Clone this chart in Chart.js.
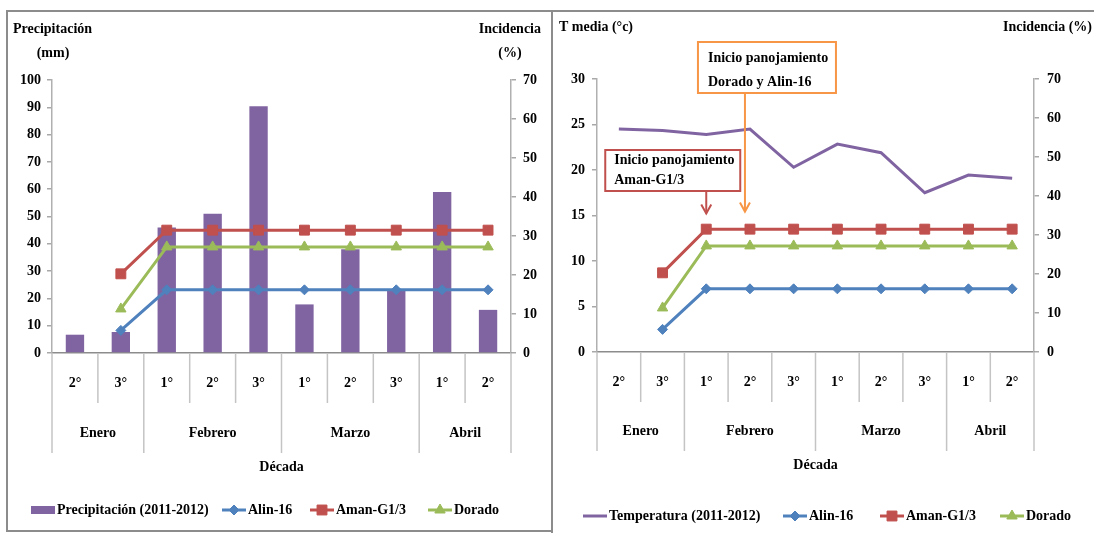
<!DOCTYPE html>
<html><head><meta charset="utf-8">
<script src="https://cdn.jsdelivr.net/npm/chart.js@4.4.1/dist/chart.umd.min.js"></script>
<style>
html,body{margin:0;padding:0;background:#fff;width:1094px;height:533px;overflow:hidden;position:relative}
.frame{position:absolute;box-sizing:border-box;border:2px solid #8c8c8c}
#f1{left:6px;top:10px;width:547px;height:522px}
#f2{left:551px;top:10px;width:600px;height:540px}
canvas{position:absolute}
#c1{left:8px;top:12px}
#c2{left:553px;top:12px}
</style></head><body>
<div class="frame" id="f1"></div>
<div class="frame" id="f2"></div>
<canvas id="c1" width="542" height="519"></canvas>
<canvas id="c2" width="541" height="521"></canvas>
<script>
// ---------- data ----------
const decades = ['2°','3°','1°','2°','3°','1°','2°','3°','1°','2°'];
const months = ['Enero','Febrero','Marzo','Abril'];
const monthSpans = [2,3,3,2];
const precipitation = [6.7,7.7,46,51,90.4,17.8,38,22.7,59,15.8];
const temperature = [24.5,24.35,23.9,24.5,20.3,22.85,21.9,17.5,19.45,19.1];
const alin16  = [null,5.8,16.2,16.2,16.2,16.2,16.2,16.2,16.2,16.2];
const amanG13 = [null,20.3,31.5,31.5,31.5,31.5,31.5,31.5,31.5,31.5];
const dorado  = [null,11.3,27.2,27.2,27.2,27.2,27.2,27.2,27.2,27.2];
const precTicks = {min:0,max:100,step:10};
const tempTicks = {min:0,max:30,step:5};
const incTicks  = {min:0,max:70,step:10};

// ---------- styles ----------
const PURPLE='#8064A2', BLUE='#4F81BD', RED='#C0504D', GREEN='#9BBB59', ORANGE='#F79646';
const FONT='bold 14px "Liberation Serif"';
Chart.defaults.font = {family:'"Liberation Serif"', size:14, weight:'bold'};
Chart.defaults.color = '#000';

const lineDs = (label,data,color,style,radius)=>({
  type:'line', label, data, yAxisID:'y1', borderColor:color, backgroundColor:color,
  borderWidth:3, pointStyle:style, pointRadius:radius, pointBorderWidth:1,
  pointBorderColor:color, tension:0, order:0, spanGaps:false
});

function yAxis(t, pos, width, pad){
  return {
    type:'linear', position:pos, min:t.min, max:t.max,
    ticks:{stepSize:t.step, padding:pad, color:'#000', font:{size:14,weight:'bold'}},
    grid:{drawOnChartArea:false, drawTicks:true, tickLength:5, color:'#a8a8a8', lineWidth:1.5},
    border:{display:true, color:'#b0b0b0', width:1.5},
    afterFit(s){ s.width = width; }
  };
}
function xAxis(height){
  return {
    type:'category', offset:true,
    ticks:{display:false},
    grid:{display:false},
    border:{display:true, color:'#8c8c8c', width:1.5},
    afterFit(s){ s.height = height; }
  };
}

function legendSymbol(ctx, item, x, y){
  ctx.save();
  ctx.fillStyle = item.color; ctx.strokeStyle = item.color;
  if (item.kind==='box'){
    ctx.fillRect(x, y-4, 24, 8);
  } else {
    ctx.lineWidth = 3;
    ctx.beginPath(); ctx.moveTo(x, y); ctx.lineTo(x+24, y); ctx.stroke();
    if (item.style){
      ctx.lineWidth = 1;
      Chart.helpers.drawPoint(ctx, {pointStyle:item.style, radius:item.radius, rotation:0, borderWidth:1}, x+12, y);
    }
  }
  ctx.restore();
}

function hierPlugin(cfg){
  return {
    id:'hier'+cfg.id,
    afterDraw(chart){
      const {ctx, chartArea:a, scales:{x}} = chart;
      const n = decades.length;
      const bounds=[0]; let acc=0; monthSpans.forEach(s=>{acc+=s; bounds.push(acc);});
      ctx.save();
      // separators
      ctx.strokeStyle='#c4c4c4'; ctx.lineWidth=1.5;
      for(let i=0;i<=n;i++){
        const px = i===0 ? a.left : (i===n ? a.right : (x.getPixelForValue(i-1)+x.getPixelForValue(i))/2);
        const len = bounds.includes(i) ? cfg.longLen : cfg.shortLen;
        ctx.beginPath(); ctx.moveTo(px, a.bottom); ctx.lineTo(px, a.bottom+len); ctx.stroke();
      }
      ctx.font=FONT; ctx.fillStyle='#000'; ctx.textAlign='center'; ctx.textBaseline='middle';
      decades.forEach((d,i)=> ctx.fillText(d, x.getPixelForValue(i), a.bottom+cfg.dec));
      months.forEach((m,k)=>{
        const i0=bounds[k], i1=bounds[k+1]-1;
        const cx=(x.getPixelForValue(i0)+x.getPixelForValue(i1))/2;
        ctx.fillText(m, cx, a.bottom+cfg.mon);
      });
      ctx.fillText('Década', (a.left+a.right)/2, a.bottom+cfg.title);
      // axis titles
      cfg.titles.forEach(t=>{ ctx.textAlign=t.align; ctx.fillText(t.text, t.x, t.y); });
      // legend
      ctx.textAlign='left';
      const ly = a.bottom + cfg.legend;
      cfg.legendItems.forEach((it,k)=>{
        const sx = cfg.legendX[k];
        legendSymbol(ctx, it, sx, ly);
        ctx.fillStyle='#000';
        ctx.fillText(it.label, sx+26, ly);
      });
      // annotations
      (cfg.notes||[]).forEach(nt=>{
        const ax = x.getPixelForValue(nt.cat) + nt.dx;
        const bl = ax + nt.boxL, bw = nt.boxW;
        ctx.strokeStyle = nt.color; ctx.lineWidth = 2;
        ctx.fillStyle='#fff';
        ctx.fillRect(bl, nt.top, bw, nt.h);
        ctx.strokeRect(bl, nt.top, bw, nt.h);
        ctx.fillStyle='#000'; ctx.textAlign='left';
        nt.lines.forEach((ln,j)=> ctx.fillText(ln, bl+nt.tx, nt.top+nt.ty[j]));
        const tip = chart.scales.y1.getPixelForValue(nt.tipVal);
        ctx.beginPath(); ctx.moveTo(ax, nt.top+nt.h); ctx.lineTo(ax, tip); ctx.stroke();
        ctx.beginPath(); ctx.moveTo(ax-5, tip-9); ctx.lineTo(ax, tip); ctx.lineTo(ax+5, tip-9); ctx.stroke();
      });
      ctx.restore();
    }
  };
}

// ---------- chart 1 ----------
new Chart(document.getElementById('c1'), {
  data:{
    labels: decades,
    datasets:[
      {type:'bar', label:'Precipitación (2011-2012)', data:precipitation, yAxisID:'y',
       backgroundColor:PURPLE, borderWidth:0, barPercentage:0.4, categoryPercentage:1, order:2},
      lineDs('Alin-16', alin16, BLUE, 'rectRot', 5),
      lineDs('Aman-G1/3', amanG13, RED, 'rect', 7),
      lineDs('Dorado', dorado, GREEN, 'triangle', 6)
    ]
  },
  options:{
    responsive:false, animation:false, events:[],
    layout:{padding:{top:68,left:0,right:0,bottom:0}},
    plugins:{legend:{display:false}, tooltip:{enabled:false}},
    scales:{ x:xAxis(178), y:yAxis(precTicks,'left',44,6), y1:yAxis(incTicks,'right',39,7) }
  },
  plugins:[hierPlugin({
    id:1, dec:30, mon:80, title:114, legend:157, shortLen:50, longLen:100,
    titles:[
      {text:'Precipitación', x:5, y:17, align:'left'},
      {text:'(mm)', x:45, y:41, align:'center'},
      {text:'Incidencia', x:533, y:17, align:'right'},
      {text:'(%)', x:502, y:41, align:'center'}
    ],
    legendX:[23,214,302,420],
    legendItems:[
      {label:'Precipitación (2011-2012)', kind:'box', color:PURPLE},
      {label:'Alin-16', kind:'line', color:BLUE, style:'rectRot', radius:5},
      {label:'Aman-G1/3', kind:'line', color:RED, style:'rect', radius:7},
      {label:'Dorado', kind:'line', color:GREEN, style:'triangle', radius:6}
    ]
  })]
});

// ---------- chart 2 ----------
new Chart(document.getElementById('c2'), {
  data:{
    labels: decades,
    datasets:[
      {type:'line', label:'Temperatura (2011-2012)', data:temperature, yAxisID:'y',
       borderColor:PURPLE, backgroundColor:PURPLE, borderWidth:3, pointRadius:0, tension:0, order:3},
      lineDs('Alin-16', alin16, BLUE, 'rectRot', 5),
      lineDs('Aman-G1/3', amanG13, RED, 'rect', 7),
      lineDs('Dorado', dorado, GREEN, 'triangle', 6)
    ]
  },
  options:{
    responsive:false, animation:false, events:[],
    layout:{padding:{top:67,left:0,right:0,bottom:0}},
    plugins:{legend:{display:false}, tooltip:{enabled:false}},
    scales:{ x:xAxis(181), y:yAxis(tempTicks,'left',44,7), y1:yAxis(incTicks,'right',60,8) }
  },
  plugins:[hierPlugin({
    id:2, dec:30, mon:79, title:113, legend:164, shortLen:50, longLen:99,
    titles:[
      {text:'T media (°c)', x:6, y:15, align:'left'},
      {text:'Incidencia (%)', x:539, y:15, align:'right'}
    ],
    legendX:[30,230,327,447],
    legendItems:[
      {label:'Temperatura (2011-2012)', kind:'line', color:PURPLE},
      {label:'Alin-16', kind:'line', color:BLUE, style:'rectRot', radius:5},
      {label:'Aman-G1/3', kind:'line', color:RED, style:'rect', radius:7},
      {label:'Dorado', kind:'line', color:GREEN, style:'triangle', radius:6}
    ],
    notes:[
      {cat:3, dx:-5, boxL:-47, boxW:138, top:30, h:51, tx:10, ty:[16,40], color:ORANGE,
       lines:['Inicio panojamiento','Dorado y Alin-16'], tipVal:36},
      {cat:2, dx:0, boxL:-101, boxW:135, top:138, h:41, tx:9, ty:[10,30], color:RED,
       lines:['Inicio panojamiento','Aman-G1/3'], tipVal:35.5}
    ]
  })]
});
</script>
</body></html>
